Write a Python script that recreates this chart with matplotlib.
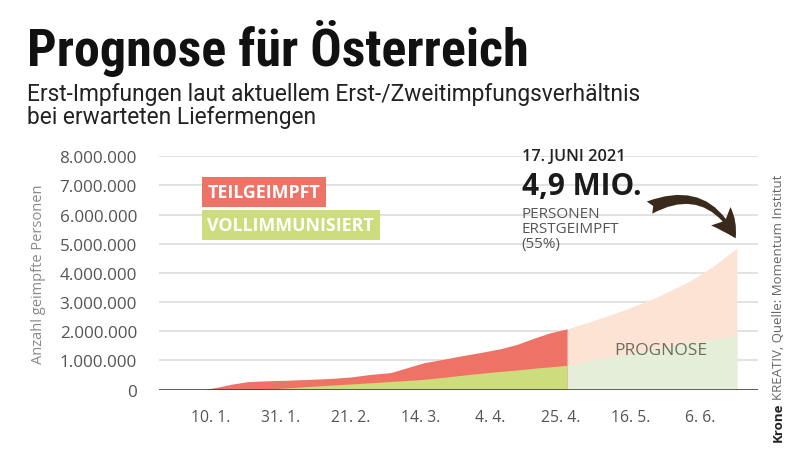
import matplotlib
matplotlib.use("Agg")
import matplotlib.pyplot as plt
import matplotlib.dates as mdates
from matplotlib.patches import FancyArrowPatch
import numpy as np
import pandas as pd

# first doses (teilgeimpft top), millions
hist_dates = pd.to_datetime([
    "2020-12-26", "2021-01-08", "2021-01-12", "2021-01-16", "2021-01-21",
    "2021-01-27", "2021-02-02", "2021-02-09", "2021-02-15", "2021-02-21",
    "2021-02-27", "2021-03-05", "2021-03-10", "2021-03-15", "2021-03-20",
    "2021-03-26", "2021-04-01", "2021-04-07", "2021-04-12", "2021-04-17",
    "2021-04-22", "2021-04-27"])
hist_first = [0, 0, 0.08, 0.18, 0.27, 0.30, 0.32, 0.35, 0.38, 0.43, 0.52,
              0.58, 0.75, 0.92, 1.02, 1.15, 1.27, 1.40, 1.55, 1.76, 1.95, 2.08]

full_dates = pd.to_datetime([
    "2020-12-26", "2021-01-25", "2021-02-01", "2021-02-08", "2021-02-15",
    "2021-02-21", "2021-02-28", "2021-03-07", "2021-03-14", "2021-03-21",
    "2021-03-28", "2021-04-04", "2021-04-11", "2021-04-18", "2021-04-27"])
hist_full = [0, 0, 0.05, 0.10, 0.15, 0.19, 0.24, 0.29, 0.34, 0.42, 0.51,
             0.59, 0.66, 0.74, 0.83]

fc_dates = pd.to_datetime(["2021-04-27", "2021-05-04", "2021-05-14",
                           "2021-05-24", "2021-06-03", "2021-06-10",
                           "2021-06-17"])
fc_first = [2.08, 2.33, 2.72, 3.17, 3.73, 4.24, 4.85]

fc_full_dates = pd.to_datetime(["2021-04-27", "2021-05-10", "2021-05-30",
                                "2021-06-17"])
fc_full = [0.83, 1.13, 1.53, 1.86]

tick_dates = pd.to_datetime(["2021-01-10", "2021-01-31", "2021-02-21",
                             "2021-03-14", "2021-04-04", "2021-04-25",
                             "2021-05-16", "2021-06-06"])
tick_labels = ["10. 1.", "31. 1.", "21. 2.", "14. 3.", "4. 4.", "25. 4.",
               "16. 5.", "6. 6."]
y_ticks = [0, 1e6, 2e6, 3e6, 4e6, 5e6, 6e6, 7e6, 8e6]
y_labels = ["0", "1.000.000", "2.000.000", "3.000.000", "4.000.000",
            "5.000.000", "6.000.000", "7.000.000", "8.000.000"]

RED = "#ee7366"
GREEN = "#cddc7c"
PINK = "#fde3d4"
LGREEN = "#e4eed8"
GREY = "#555555"

narrow = ["Roboto Condensed", "Roboto", "DejaVu Sans"]
sans = ["Open Sans", "DejaVu Sans"]


def d(s):
    return mdates.date2num(pd.Timestamp(s))


fig = plt.figure(figsize=(8, 4.52), dpi=100)
ax = fig.add_axes([0.199, 0.136, 0.7485, 0.516])

M = 1e6
ax.fill_between(fc_dates, 0, np.array(fc_first) * M, color=PINK, lw=0)
ax.fill_between(fc_full_dates, 0, np.array(fc_full) * M, color=LGREEN, lw=0)
ax.fill_between(hist_dates, 0, np.array(hist_first) * M, color=RED, lw=0)
ax.fill_between(full_dates, 0, np.array(hist_full) * M, color=GREEN, lw=0)

ax.set_ylim(0, 8e6)
ax.set_xlim(d("2020-12-25 12:00"), d("2021-06-23 08:00"))
ax.set_yticks(y_ticks)
ax.set_yticklabels(y_labels, family=sans, fontsize=12.3, color=GREY)
ax.set_xticks(tick_dates)
ax.set_xticklabels(tick_labels, family=sans, fontsize=11.3, color=GREY)
ax.tick_params(axis="both", length=0)
ax.tick_params(axis="y", pad=16)
ax.tick_params(axis="x", pad=14)
for s in ax.spines.values():
    s.set_visible(False)
ax.grid(axis="y", color="#dddddd", lw=1.2, zorder=0)
ax.set_axisbelow(True)
ax.axhline(0, color="#333333", lw=1.8, zorder=5)
ax.set_ylabel("Anzahl geimpfte Personen", family=sans, fontsize=10.5,
              color="#8a8a8a", labelpad=10)

# legend boxes
ax.text(d("2021-01-09"), 6.77e6, "TEILGEIMPFT",
        family=sans, fontsize=12.8, fontweight="bold", color="white",
        va="center", ha="left",
        bbox=dict(boxstyle="square,pad=0.32", fc=RED, ec="none"))
ax.text(d("2021-01-09"), 5.64e6, "VOLLIMMUNISIERT",
        family=sans, fontsize=12.8, fontweight="bold", color="white",
        va="center", ha="left",
        bbox=dict(boxstyle="square,pad=0.32", fc=GREEN, ec="none"))

# annotation
x0 = d("2021-04-13 08:00")
ax.text(x0, 8.02e6, "17. JUNI 2021", family=sans, fontsize=11.7,
        fontweight="semibold", color="#222222", va="center", clip_on=False)
ax.text(x0, 6.98e6, "4,9 MIO.", family=sans, fontsize=21.5,
        fontweight="bold", color="#1a1a1a", va="center")
ax.text(x0, 6.3e6, "PERSONEN\nERSTGEIMPFT\n(55%)", family=sans,
        fontsize=11, color=GREY, va="top", linespacing=1.0)

arrow = FancyArrowPatch(
    (d("2021-05-21"), 6.2e6), (d("2021-06-17"), 5.1e6),
    connectionstyle="arc3,rad=-0.5",
    arrowstyle="fancy,head_length=12,head_width=12,tail_width=6",
    color="#3a2a1c", lw=0, mutation_scale=1.6)
ax.add_patch(arrow)

ax.text(d("2021-05-25"), 1.35e6, "PROGNOSE",
        family=sans, fontsize=12.5, color="#6e6e60", ha="center",
        va="center")

# headline
fig.text(0.034, 0.893, "Prognose für Österreich", family=narrow,
         fontsize=37.5, fontweight="bold", color="#111111", va="center")
fig.text(0.034, 0.765, "Erst-Impfungen laut aktuellem Erst-/Zweitimpfungsverhältnis\n"
         "bei erwarteten Liefermengen", family=["Roboto", "DejaVu Sans"],
         fontsize=16.4, color="#222222", va="center", linespacing=1.0)

# credit, rotated
fig.canvas.draw()
r = fig.canvas.get_renderer()
t1 = fig.text(0.973, 0.022, "Krone", family=sans, fontsize=9.5,
              fontweight="bold", color="#222222", rotation=90,
              ha="center", va="bottom")
bb = t1.get_window_extent(renderer=r)
fig.text(0.973, (bb.y1 + 3) / fig.bbox.height,
         "KREATIV, Quelle: Momentum Institut", family=sans, fontsize=9.5,
         color="#666666", rotation=90, ha="center", va="bottom")

fig.savefig("out.png", dpi=100)
